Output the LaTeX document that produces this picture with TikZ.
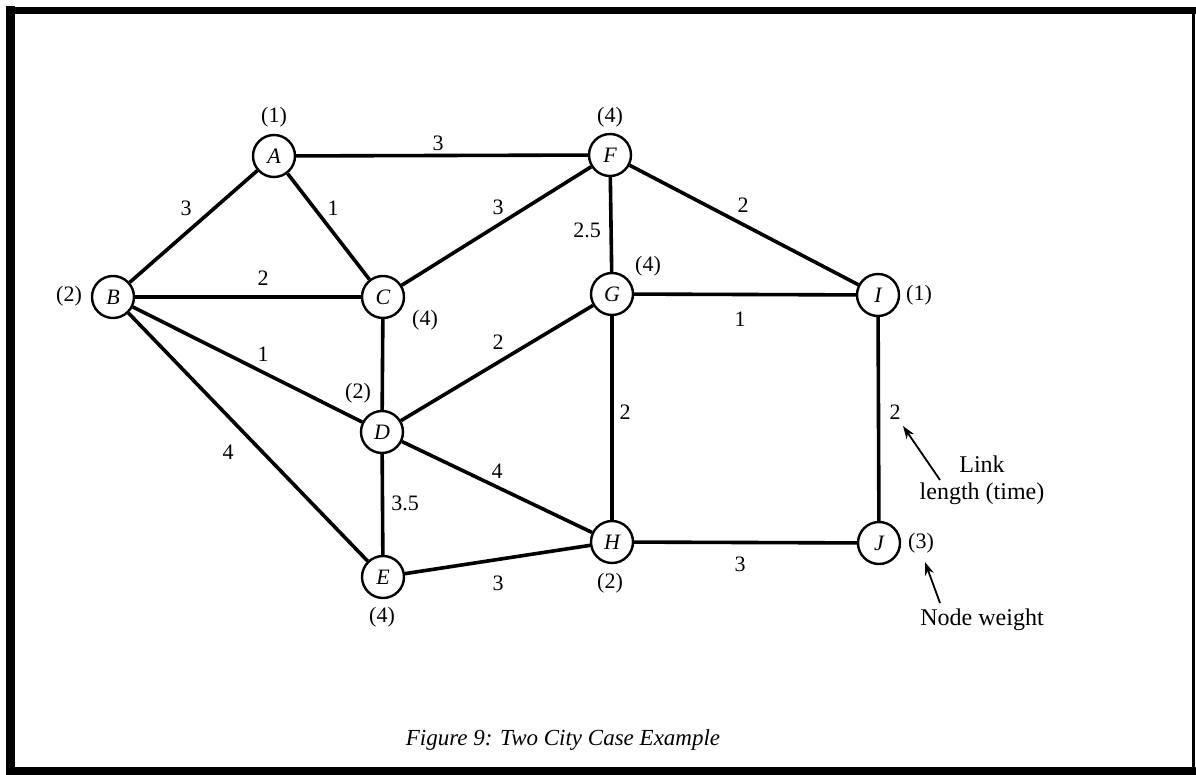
\documentclass[tikz,border=0pt]{standalone}
\usepackage{fontspec}
\setmainfont{Liberation Serif}
\usetikzlibrary{arrows.meta}
\begin{document}
\begin{tikzpicture}[x=1pt,y=-1pt,
  city/.style={circle,draw,line width=2.4pt,minimum size=42pt,inner sep=0pt,fill=white,font=\fontsize{22}{22}\selectfont\itshape},
  link/.style={line width=3.6pt},
  lbl/.style={font=\fontsize{22}{22}\selectfont,inner sep=0pt},
  note/.style={font=\fontsize{24}{27}\selectfont,inner sep=0pt,align=center},
  pointer/.style={line width=1.8pt,-{Stealth[length=13pt,width=9pt]}},
  framebar/.style={line cap=rect}]
\useasboundingbox (0,0) rectangle (1196,775);
% frame
\coordinate (tl) at (10,11);
\coordinate (tr) at (1193,11);
\coordinate (br) at (1193,771);
\coordinate (bl) at (10,771);
\draw[framebar,line width=9pt] (bl) -- (tl);
\draw[framebar,line width=7pt] (tl) -- (tr);
\draw[framebar,line width=3pt] (tr) -- (br);
\draw[framebar,line width=8pt] (br) -- (bl);
% nodes
\node[city] (A) at (274,156) {A};
\node[city] (B) at (113,297) {B};
\node[city] (C) at (383,297) {C};
\node[city] (D) at (382,432) {D};
\node[city] (E) at (383,577) {E};
\node[city] (F) at (610,155) {F};
\node[city] (G) at (612,294) {G};
\node[city] (H) at (612,542) {H};
\node[city] (I) at (878,295) {I};
\node[city] (J) at (879,543) {J};
% links
\draw[link] (A) -- (F);
\draw[link] (A) -- (B);
\draw[link] (A) -- (C);
\draw[link] (B) -- (C);
\draw[link] (B) -- (D);
\draw[link] (B) -- (E);
\draw[link] (C) -- (F);
\draw[link] (C) -- (D);
\draw[link] (F) -- (G);
\draw[link] (F) -- (I);
\draw[link] (G) -- (I);
\draw[link] (D) -- (G);
\draw[link] (G) -- (H);
\draw[link] (D) -- (H);
\draw[link] (D) -- (E);
\draw[link] (E) -- (H);
\draw[link] (H) -- (J);
\draw[link] (I) -- (J);
% node weights
\node[lbl] (wA) at (274,117) {(1)};
\node[lbl] (wF) at (610,117) {(4)};
\node[lbl] (wB) at (69,296) {(2)};
\node[lbl] (wC) at (425,320) {(4)};
\node[lbl] (wG) at (648,266) {(4)};
\node[lbl] (wI) at (919,295) {(1)};
\node[lbl] (wJ) at (921,543) {(3)};
\node[lbl] (wD) at (358,393) {(2)};
\node[lbl] (wE) at (382,617) {(4)};
\node[lbl] (wH) at (610,583) {(2)};
% link lengths
\node[lbl] (lAF) at (438,143) {3};
\node[lbl] (lAB) at (186,208) {3};
\node[lbl] (lAC) at (333,208) {1};
\node[lbl] (lBC) at (263,278) {2};
\node[lbl] (lCF) at (498,207) {3};
\node[lbl] (lFG) at (587,230) {2.5};
\node[lbl] (lFI) at (743,205) {2};
\node[lbl] (lGI) at (740,319) {1};
\node[lbl] (lDG) at (498,342) {2};
\node[lbl] (lBD) at (263,354) {1};
\node[lbl] (lBE) at (228,452) {4};
\node[lbl] (lGH) at (625,412) {2};
\node[lbl] (lDH) at (497,471) {4};
\node[lbl] (lDE) at (405,503) {3.5};
\node[lbl] (lEH) at (498,583) {3};
\node[lbl] (lHJ) at (740,564) {3};
\node[lbl] (lIJ) at (895,412) {2};
% annotations
\node[note] (link) at (982,480) {Link\\length (time)};
\node[note] (nw) at (982,620) {Node weight};
\coordinate (p1) at (940,480);
\coordinate (p1e) at (903,426);
\coordinate (p2) at (940,603);
\coordinate (p2e) at (925,562);
\draw[pointer] (p1) -- (p1e);
\draw[pointer] (p2) -- (p2e);
% caption
\node[inner sep=0pt,font=\fontsize{23}{23}\selectfont\itshape] (cap) at (563,740) {Figure 9: Two City Case Example};
\end{tikzpicture}
\end{document}
